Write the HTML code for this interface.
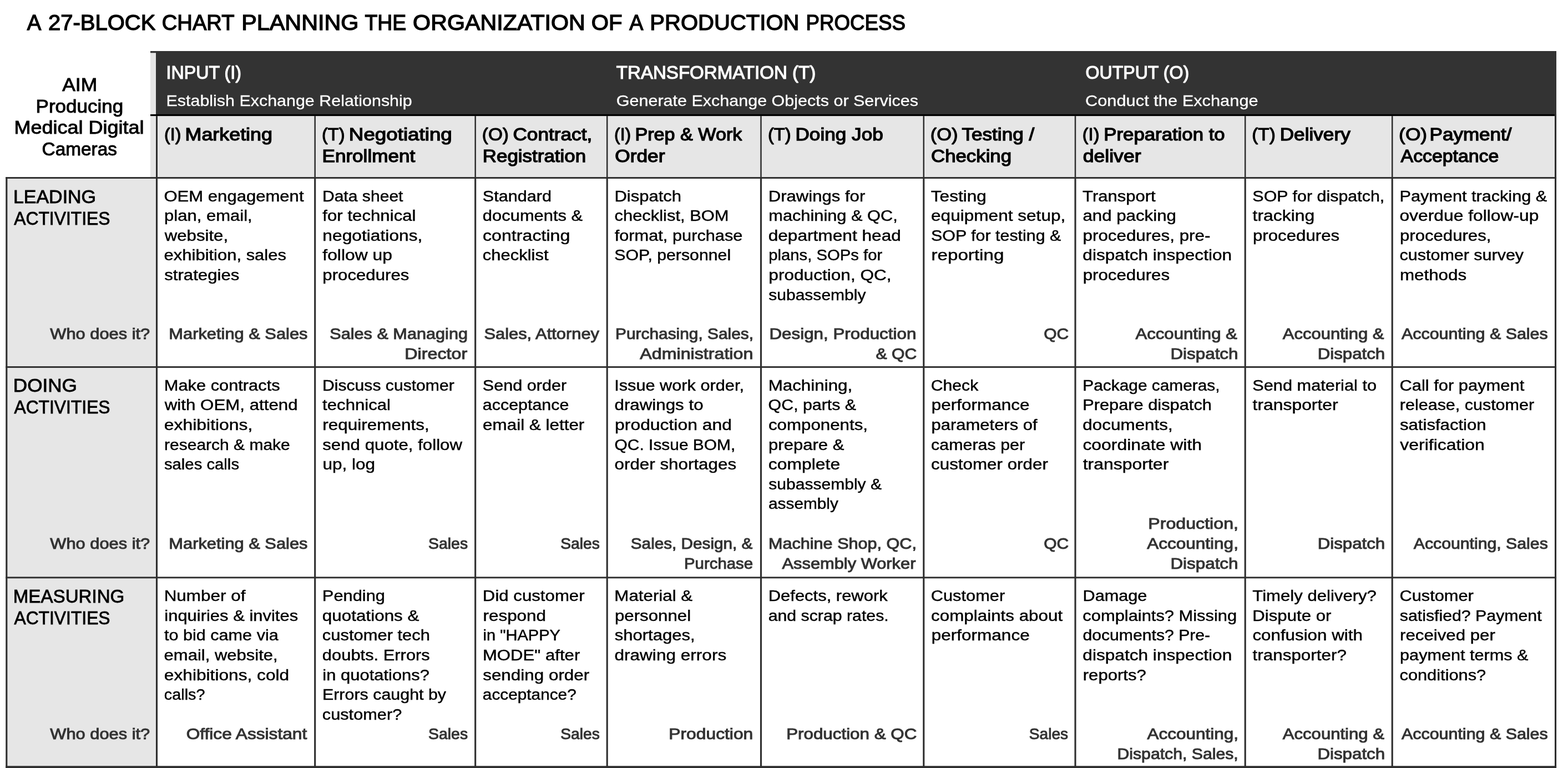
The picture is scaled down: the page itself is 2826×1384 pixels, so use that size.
<!DOCTYPE html>
<html lang="en">
<head>
<meta charset="utf-8">
<title>A 27-Block Chart Planning the Organization of a Production Process</title>
<style>
html,body{margin:0;padding:0;background:#fff}
body{width:2826px;height:1384px;overflow:hidden}
svg{display:block;position:absolute;left:0;top:0}
text{font-family:"Liberation Sans",sans-serif;font-weight:400;white-space:pre;stroke-linejoin:miter;stroke-miterlimit:2}
.title{font-size:38.3px;fill:#000;stroke:#000;stroke-width:1.35px}
.aim{font-size:32.7px;fill:#000;stroke:#000;stroke-width:0.95px}
.grp{font-size:32.7px;fill:#fff;stroke:#fff;stroke-width:1.2px}
.sub{font-size:28.5px;fill:#fff;stroke:#fff;stroke-width:0.3px}
.hd{font-size:31.8px;fill:#000;stroke:#000;stroke-width:1.3px}
.hdr{font-size:32.2px;fill:#000;stroke:#000;stroke-width:1.15px}
.row{font-size:34.1px;fill:#000;stroke:#000;stroke-width:0.85px}
.body{font-size:28.2px;fill:#000;stroke:#000;stroke-width:0.45px}
.who{font-size:28.3px;fill:#333;stroke:#333;stroke-width:1px}
</style>
</head>
<body>
<svg width="2826" height="1384" viewBox="0 0 2826 1384" role="img" aria-label="A 27-block chart planning the organization of a production process">
  <g id="grid">
    <rect x="271.00" y="92.00" width="11.50" height="228.50" fill="#e6e6e6"/>
    <rect x="281.00" y="92.00" width="2524.00" height="115.50" fill="#333333"/>
    <rect x="282.50" y="207.50" width="2521.00" height="113.00" fill="#e6e6e6"/>
    <rect x="11.80" y="320.50" width="270.70" height="1061.20" fill="#e6e6e6"/>
    <rect x="271.00" y="92.00" width="2534.00" height="3.30" fill="#333333"/>
    <rect x="271.00" y="205.90" width="2530.95" height="3.20" fill="#000000"/>
    <rect x="10.25" y="319.05" width="3.10" height="1065.50" fill="#2e2e2e"/>
    <rect x="281.00" y="209.10" width="3.00" height="111.40" fill="#2e2e2e"/>
    <rect x="280.95" y="320.50" width="3.10" height="1065.50" fill="#2e2e2e"/>
    <rect x="566.45" y="209.10" width="2.50" height="111.40" fill="#2e2e2e"/>
    <rect x="566.15" y="320.50" width="3.10" height="1065.50" fill="#2e2e2e"/>
    <rect x="855.45" y="209.10" width="2.50" height="111.40" fill="#2e2e2e"/>
    <rect x="855.15" y="320.50" width="3.10" height="1065.50" fill="#2e2e2e"/>
    <rect x="1092.95" y="209.10" width="2.50" height="111.40" fill="#2e2e2e"/>
    <rect x="1092.65" y="320.50" width="3.10" height="1065.50" fill="#2e2e2e"/>
    <rect x="1370.25" y="209.10" width="2.50" height="111.40" fill="#2e2e2e"/>
    <rect x="1369.95" y="320.50" width="3.10" height="1065.50" fill="#2e2e2e"/>
    <rect x="1663.55" y="209.10" width="2.50" height="111.40" fill="#2e2e2e"/>
    <rect x="1663.25" y="320.50" width="3.10" height="1065.50" fill="#2e2e2e"/>
    <rect x="1936.75" y="209.10" width="2.50" height="111.40" fill="#2e2e2e"/>
    <rect x="1936.45" y="320.50" width="3.10" height="1065.50" fill="#2e2e2e"/>
    <rect x="2242.95" y="209.10" width="2.50" height="111.40" fill="#2e2e2e"/>
    <rect x="2242.65" y="320.50" width="3.10" height="1065.50" fill="#2e2e2e"/>
    <rect x="2507.95" y="209.10" width="2.50" height="111.40" fill="#2e2e2e"/>
    <rect x="2507.65" y="320.50" width="3.10" height="1065.50" fill="#2e2e2e"/>
    <rect x="2801.95" y="205.90" width="3.10" height="1180.10" fill="#2e2e2e"/>
    <rect x="10.25" y="319.05" width="2794.80" height="2.90" fill="#2e2e2e"/>
    <rect x="10.25" y="660.00" width="2794.80" height="2.90" fill="#2e2e2e"/>
    <rect x="10.25" y="1039.40" width="2794.80" height="2.90" fill="#2e2e2e"/>
    <rect x="10.25" y="1380.25" width="2794.80" height="5.75" fill="#2e2e2e"/>
  </g>
  <g id="title">
    <text class="title" y="54.23"><tspan x="48.71" textLength="23.41" lengthAdjust="spacingAndGlyphs">A</tspan> <tspan x="86.95" textLength="193.40" lengthAdjust="spacingAndGlyphs">27-BLOCK</tspan> <tspan x="291.81" textLength="130.02" lengthAdjust="spacingAndGlyphs">CHART</tspan> <tspan x="435.28" textLength="211.19" lengthAdjust="spacingAndGlyphs">PLANNING</tspan> <tspan x="657.44" textLength="74.68" lengthAdjust="spacingAndGlyphs">THE</tspan> <tspan x="744.13" textLength="310.75" lengthAdjust="spacingAndGlyphs">ORGANIZATION</tspan> <tspan x="1065.70" textLength="55.82" lengthAdjust="spacingAndGlyphs">OF</tspan> <tspan x="1134.35" textLength="23.06" lengthAdjust="spacingAndGlyphs">A</tspan> <tspan x="1171.37" textLength="269.10" lengthAdjust="spacingAndGlyphs">PRODUCTION</tspan> <tspan x="1452.48" textLength="179.60" lengthAdjust="spacingAndGlyphs">PROCESS</tspan></text>
  </g>
  <g id="aim">
    <text class="aim" x="112.23" y="163.72" textLength="62.91" lengthAdjust="spacingAndGlyphs">AIM</text>
    <text class="aim" x="64.55" y="202.53" textLength="157.58" lengthAdjust="spacingAndGlyphs">Producing</text>
    <text class="aim" x="25.54" y="241.43" textLength="233.85" lengthAdjust="spacingAndGlyphs">Medical Digital</text>
    <text class="aim" x="75.62" y="280.22" textLength="135.38" lengthAdjust="spacingAndGlyphs">Cameras</text>
  </g>
  <g id="phases">
    <g id="phase-1">
      <text class="grp" x="299.59" y="142.40" textLength="135.28" lengthAdjust="spacingAndGlyphs">INPUT (I)</text>
      <text class="sub" x="299.52" y="190.65" textLength="443.20" lengthAdjust="spacingAndGlyphs">Establish Exchange Relationship</text>
    </g>
    <g id="phase-2">
      <text class="grp" x="1110.85" y="142.40" textLength="359.37" lengthAdjust="spacingAndGlyphs">TRANSFORMATION (T)</text>
      <text class="sub" x="1110.86" y="190.65" textLength="544.12" lengthAdjust="spacingAndGlyphs">Generate Exchange Objects or Services</text>
    </g>
    <g id="phase-3">
      <text class="grp" x="1956.57" y="142.40" textLength="186.50" lengthAdjust="spacingAndGlyphs">OUTPUT (O)</text>
      <text class="sub" x="1955.99" y="190.65" textLength="311.67" lengthAdjust="spacingAndGlyphs">Conduct the Exchange</text>
    </g>
  </g>
  <g id="steps">
    <g id="step-1">
      <text class="hd" y="253.35"><tspan class="hdr" x="296.05" textLength="30.43" lengthAdjust="spacingAndGlyphs">(I)</tspan> <tspan x="333.56" textLength="157.40" lengthAdjust="spacingAndGlyphs">Marketing</tspan></text>
    </g>
    <g id="step-2">
      <text class="hd" y="253.35"><tspan class="hdr" x="579.97" textLength="41.52" lengthAdjust="spacingAndGlyphs">(T)</tspan> <tspan x="628.83" textLength="186.00" lengthAdjust="spacingAndGlyphs">Negotiating</tspan></text>
      <text class="hd" x="580.48" y="292.35" textLength="167.80" lengthAdjust="spacingAndGlyphs">Enrollment</text>
    </g>
    <g id="step-3">
      <text class="hd" y="253.35"><tspan class="hdr" x="868.83" textLength="48.10" lengthAdjust="spacingAndGlyphs">(O)</tspan> <tspan x="924.40" textLength="142.93" lengthAdjust="spacingAndGlyphs">Contract,</tspan></text>
      <text class="hd" x="869.79" y="292.35" textLength="186.38" lengthAdjust="spacingAndGlyphs">Registration</text>
    </g>
    <g id="step-4">
      <text class="hd" y="253.35"><tspan class="hdr" x="1107.05" textLength="30.24" lengthAdjust="spacingAndGlyphs">(I)</tspan> <tspan x="1144.46" textLength="192.92" lengthAdjust="spacingAndGlyphs">Prep &amp; Work</tspan></text>
      <text class="hd" x="1108.19" y="292.35" textLength="90.24" lengthAdjust="spacingAndGlyphs">Order</text>
    </g>
    <g id="step-5">
      <text class="hd" y="253.35"><tspan class="hdr" x="1383.93" textLength="41.78" lengthAdjust="spacingAndGlyphs">(T)</tspan> <tspan x="1433.47" textLength="158.34" lengthAdjust="spacingAndGlyphs">Doing Job</tspan></text>
    </g>
    <g id="step-6">
      <text class="hd" y="253.35"><tspan class="hdr" x="1676.81" textLength="49.74" lengthAdjust="spacingAndGlyphs">(O)</tspan> <tspan x="1733.53" textLength="130.65" lengthAdjust="spacingAndGlyphs">Testing /</tspan></text>
      <text class="hd" x="1678.01" y="292.35" textLength="145.08" lengthAdjust="spacingAndGlyphs">Checking</text>
    </g>
    <g id="step-7">
      <text class="hd" y="253.35"><tspan class="hdr" x="1950.75" textLength="30.75" lengthAdjust="spacingAndGlyphs">(I)</tspan> <tspan x="1989.32" textLength="218.35" lengthAdjust="spacingAndGlyphs">Preparation to</tspan></text>
      <text class="hd" x="1951.72" y="292.35" textLength="104.84" lengthAdjust="spacingAndGlyphs">deliver</text>
    </g>
    <g id="step-8">
      <text class="hd" y="253.35"><tspan class="hdr" x="2256.24" textLength="42.67" lengthAdjust="spacingAndGlyphs">(T)</tspan> <tspan x="2306.72" textLength="127.01" lengthAdjust="spacingAndGlyphs">Delivery</tspan></text>
    </g>
    <g id="step-9">
      <text class="hd" y="253.35"><tspan class="hdr" x="2521.14" textLength="50.97" lengthAdjust="spacingAndGlyphs">(O)</tspan> <tspan x="2576.50" textLength="148.09" lengthAdjust="spacingAndGlyphs">Payment/</tspan></text>
      <text class="hd" x="2524.63" y="292.35" textLength="176.67" lengthAdjust="spacingAndGlyphs">Acceptance</text>
    </g>
  </g>
  <g id="leading-activities">
    <g id="leading-0">
      <text class="row" x="23.90" y="365.57" textLength="149.13" lengthAdjust="spacingAndGlyphs">LEADING</text>
      <text class="row" x="25.18" y="404.68" textLength="173.40" lengthAdjust="spacingAndGlyphs">ACTIVITIES</text>
      <text class="who" x="90.35" y="611.00" textLength="179.83" lengthAdjust="spacingAndGlyphs">Who does it?</text>
    </g>
    <g id="leading-1">
      <text class="body" x="295.48" y="362.77" textLength="252.04" lengthAdjust="spacingAndGlyphs">OEM engagement</text>
      <text class="body" x="296.07" y="398.34" textLength="158.61" lengthAdjust="spacingAndGlyphs">plan, email,</text>
      <text class="body" x="296.77" y="433.91" textLength="114.34" lengthAdjust="spacingAndGlyphs">website,</text>
      <text class="body" x="295.64" y="469.49" textLength="220.29" lengthAdjust="spacingAndGlyphs">exhibition, sales</text>
      <text class="body" x="296.15" y="505.05" textLength="135.26" lengthAdjust="spacingAndGlyphs">strategies</text>
      <text class="who" x="304.36" y="611.00" textLength="250.09" lengthAdjust="spacingAndGlyphs">Marketing &amp; Sales</text>
    </g>
    <g id="leading-2">
      <text class="body" x="580.90" y="362.77" textLength="145.60" lengthAdjust="spacingAndGlyphs">Data sheet</text>
      <text class="body" x="581.34" y="398.34" textLength="168.21" lengthAdjust="spacingAndGlyphs">for technical</text>
      <text class="body" x="581.38" y="433.91" textLength="180.05" lengthAdjust="spacingAndGlyphs">negotiations,</text>
      <text class="body" x="581.33" y="469.49" textLength="125.63" lengthAdjust="spacingAndGlyphs">follow up</text>
      <text class="body" x="581.36" y="505.05" textLength="155.95" lengthAdjust="spacingAndGlyphs">procedures</text>
      <text class="who" x="594.23" y="611.00" textLength="248.77" lengthAdjust="spacingAndGlyphs">Sales &amp; Managing</text>
      <text class="who" x="729.20" y="646.80" textLength="113.14" lengthAdjust="spacingAndGlyphs">Director</text>
    </g>
    <g id="leading-3">
      <text class="body" x="869.78" y="362.77" textLength="124.25" lengthAdjust="spacingAndGlyphs">Standard</text>
      <text class="body" x="869.87" y="398.34" textLength="180.38" lengthAdjust="spacingAndGlyphs">documents &amp;</text>
      <text class="body" x="870.06" y="433.91" textLength="157.25" lengthAdjust="spacingAndGlyphs">contracting</text>
      <text class="body" x="869.83" y="469.49" textLength="118.70" lengthAdjust="spacingAndGlyphs">checklist</text>
      <text class="who" x="872.40" y="611.00" textLength="207.62" lengthAdjust="spacingAndGlyphs">Sales, Attorney</text>
    </g>
    <g id="leading-4">
      <text class="body" x="1107.42" y="362.77" textLength="120.65" lengthAdjust="spacingAndGlyphs">Dispatch</text>
      <text class="body" x="1107.49" y="398.34" textLength="206.12" lengthAdjust="spacingAndGlyphs">checklist, BOM</text>
      <text class="body" x="1107.69" y="433.91" textLength="230.78" lengthAdjust="spacingAndGlyphs">format, purchase</text>
      <text class="body" x="1107.39" y="469.49" textLength="209.74" lengthAdjust="spacingAndGlyphs">SOP, personnel</text>
      <text class="who" x="1109.11" y="611.00" textLength="248.89" lengthAdjust="spacingAndGlyphs">Purchasing, Sales,</text>
      <text class="who" x="1153.35" y="646.80" textLength="203.99" lengthAdjust="spacingAndGlyphs">Administration</text>
    </g>
    <g id="leading-5">
      <text class="body" x="1384.74" y="362.77" textLength="174.55" lengthAdjust="spacingAndGlyphs">Drawings for</text>
      <text class="body" x="1385.27" y="398.34" textLength="232.47" lengthAdjust="spacingAndGlyphs">machining &amp; QC,</text>
      <text class="body" x="1384.65" y="433.91" textLength="239.24" lengthAdjust="spacingAndGlyphs">department head</text>
      <text class="body" x="1385.26" y="469.49" textLength="204.97" lengthAdjust="spacingAndGlyphs">plans, SOPs for</text>
      <text class="body" x="1385.32" y="505.05" textLength="221.33" lengthAdjust="spacingAndGlyphs">production, QC,</text>
      <text class="body" x="1385.26" y="540.62" textLength="175.23" lengthAdjust="spacingAndGlyphs">subassembly</text>
      <text class="who" x="1386.40" y="611.00" textLength="264.98" lengthAdjust="spacingAndGlyphs">Design, Production</text>
      <text class="who" x="1578.47" y="646.80" textLength="73.74" lengthAdjust="spacingAndGlyphs">&amp; QC</text>
    </g>
    <g id="leading-6">
      <text class="body" x="1677.84" y="362.77" textLength="100.02" lengthAdjust="spacingAndGlyphs">Testing</text>
      <text class="body" x="1678.07" y="398.34" textLength="242.24" lengthAdjust="spacingAndGlyphs">equipment setup,</text>
      <text class="body" x="1678.10" y="433.91" textLength="234.22" lengthAdjust="spacingAndGlyphs">SOP for testing &amp;</text>
      <text class="body" x="1678.45" y="469.49" textLength="130.96" lengthAdjust="spacingAndGlyphs">reporting</text>
      <text class="who" x="1881.24" y="611.00" textLength="44.99" lengthAdjust="spacingAndGlyphs">QC</text>
    </g>
    <g id="leading-7">
      <text class="body" x="1951.13" y="362.77" textLength="131.46" lengthAdjust="spacingAndGlyphs">Transport</text>
      <text class="body" x="1951.42" y="398.34" textLength="168.50" lengthAdjust="spacingAndGlyphs">and packing</text>
      <text class="body" x="1951.63" y="433.91" textLength="229.68" lengthAdjust="spacingAndGlyphs">procedures, pre-</text>
      <text class="body" x="1951.33" y="469.49" textLength="268.79" lengthAdjust="spacingAndGlyphs">dispatch inspection</text>
      <text class="body" x="1951.67" y="505.05" textLength="156.43" lengthAdjust="spacingAndGlyphs">procedures</text>
      <text class="who" x="2046.43" y="611.00" textLength="183.47" lengthAdjust="spacingAndGlyphs">Accounting &amp;</text>
      <text class="who" x="2109.47" y="646.80" textLength="122.02" lengthAdjust="spacingAndGlyphs">Dispatch</text>
    </g>
    <g id="leading-8">
      <text class="body" x="2257.36" y="362.77" textLength="237.94" lengthAdjust="spacingAndGlyphs">SOP for dispatch,</text>
      <text class="body" x="2257.62" y="398.34" textLength="111.69" lengthAdjust="spacingAndGlyphs">tracking</text>
      <text class="body" x="2257.95" y="433.91" textLength="156.31" lengthAdjust="spacingAndGlyphs">procedures</text>
      <text class="who" x="2311.81" y="611.00" textLength="182.75" lengthAdjust="spacingAndGlyphs">Accounting &amp;</text>
      <text class="who" x="2374.70" y="646.80" textLength="121.50" lengthAdjust="spacingAndGlyphs">Dispatch</text>
    </g>
    <g id="leading-9">
      <text class="body" x="2522.56" y="362.77" textLength="265.67" lengthAdjust="spacingAndGlyphs">Payment tracking &amp;</text>
      <text class="body" x="2522.42" y="398.34" textLength="251.02" lengthAdjust="spacingAndGlyphs">overdue follow-up</text>
      <text class="body" x="2522.97" y="433.91" textLength="164.41" lengthAdjust="spacingAndGlyphs">procedures,</text>
      <text class="body" x="2522.56" y="469.49" textLength="223.54" lengthAdjust="spacingAndGlyphs">customer survey</text>
      <text class="body" x="2522.93" y="505.05" textLength="120.14" lengthAdjust="spacingAndGlyphs">methods</text>
      <text class="who" x="2525.98" y="611.00" textLength="263.77" lengthAdjust="spacingAndGlyphs">Accounting &amp; Sales</text>
    </g>
  </g>
  <g id="doing-activities">
    <g id="doing-0">
      <text class="row" x="23.79" y="705.88" textLength="115.10" lengthAdjust="spacingAndGlyphs">DOING</text>
      <text class="row" x="25.45" y="744.98" textLength="173.14" lengthAdjust="spacingAndGlyphs">ACTIVITIES</text>
      <text class="who" x="90.35" y="989.10" textLength="179.83" lengthAdjust="spacingAndGlyphs">Who does it?</text>
    </g>
    <g id="doing-1">
      <text class="body" x="295.79" y="703.77" textLength="208.83" lengthAdjust="spacingAndGlyphs">Make contracts</text>
      <text class="body" x="296.78" y="739.38" textLength="239.84" lengthAdjust="spacingAndGlyphs">with OEM, attend</text>
      <text class="body" x="295.85" y="774.98" textLength="159.56" lengthAdjust="spacingAndGlyphs">exhibitions,</text>
      <text class="body" x="296.09" y="810.57" textLength="226.73" lengthAdjust="spacingAndGlyphs">research &amp; make</text>
      <text class="body" x="295.90" y="846.17" textLength="135.15" lengthAdjust="spacingAndGlyphs">sales calls</text>
      <text class="who" x="304.36" y="989.10" textLength="250.09" lengthAdjust="spacingAndGlyphs">Marketing &amp; Sales</text>
    </g>
    <g id="doing-2">
      <text class="body" x="580.99" y="703.77" textLength="237.75" lengthAdjust="spacingAndGlyphs">Discuss customer</text>
      <text class="body" x="581.12" y="739.38" textLength="122.90" lengthAdjust="spacingAndGlyphs">technical</text>
      <text class="body" x="581.30" y="774.98" textLength="192.56" lengthAdjust="spacingAndGlyphs">requirements,</text>
      <text class="body" x="581.21" y="810.57" textLength="251.85" lengthAdjust="spacingAndGlyphs">send quote, follow</text>
      <text class="body" x="581.44" y="846.17" textLength="94.69" lengthAdjust="spacingAndGlyphs">up, log</text>
      <text class="who" x="771.97" y="989.10" textLength="71.14" lengthAdjust="spacingAndGlyphs">Sales</text>
    </g>
    <g id="doing-3">
      <text class="body" x="869.78" y="703.77" textLength="151.40" lengthAdjust="spacingAndGlyphs">Send order</text>
      <text class="body" x="869.82" y="739.38" textLength="155.62" lengthAdjust="spacingAndGlyphs">acceptance</text>
      <text class="body" x="870.12" y="774.98" textLength="183.22" lengthAdjust="spacingAndGlyphs">email &amp; letter</text>
      <text class="who" x="1010.24" y="989.10" textLength="70.60" lengthAdjust="spacingAndGlyphs">Sales</text>
    </g>
    <g id="doing-4">
      <text class="body" x="1107.15" y="703.77" textLength="233.82" lengthAdjust="spacingAndGlyphs">Issue work order,</text>
      <text class="body" x="1107.53" y="739.38" textLength="160.06" lengthAdjust="spacingAndGlyphs">drawings to</text>
      <text class="body" x="1108.09" y="774.98" textLength="210.85" lengthAdjust="spacingAndGlyphs">production and</text>
      <text class="body" x="1107.62" y="810.57" textLength="217.64" lengthAdjust="spacingAndGlyphs">QC. Issue BOM,</text>
      <text class="body" x="1107.50" y="846.17" textLength="219.61" lengthAdjust="spacingAndGlyphs">order shortages</text>
      <text class="who" x="1136.82" y="989.10" textLength="219.56" lengthAdjust="spacingAndGlyphs">Sales, Design, &amp;</text>
      <text class="who" x="1232.96" y="1024.90" textLength="124.15" lengthAdjust="spacingAndGlyphs">Purchase</text>
    </g>
    <g id="doing-5">
      <text class="body" x="1384.69" y="703.77" textLength="151.50" lengthAdjust="spacingAndGlyphs">Machining,</text>
      <text class="body" x="1384.63" y="739.38" textLength="158.47" lengthAdjust="spacingAndGlyphs">QC, parts &amp;</text>
      <text class="body" x="1384.93" y="774.98" textLength="179.13" lengthAdjust="spacingAndGlyphs">components,</text>
      <text class="body" x="1385.08" y="810.57" textLength="136.31" lengthAdjust="spacingAndGlyphs">prepare &amp;</text>
      <text class="body" x="1384.88" y="846.17" textLength="129.26" lengthAdjust="spacingAndGlyphs">complete</text>
      <text class="body" x="1385.26" y="881.77" textLength="203.76" lengthAdjust="spacingAndGlyphs">subassembly &amp;</text>
      <text class="body" x="1385.03" y="917.38" textLength="125.87" lengthAdjust="spacingAndGlyphs">assembly</text>
      <text class="who" x="1385.03" y="989.10" textLength="266.94" lengthAdjust="spacingAndGlyphs">Machine Shop, QC,</text>
      <text class="who" x="1409.56" y="1024.90" textLength="240.87" lengthAdjust="spacingAndGlyphs">Assembly Worker</text>
    </g>
    <g id="doing-6">
      <text class="body" x="1677.85" y="703.77" textLength="85.39" lengthAdjust="spacingAndGlyphs">Check</text>
      <text class="body" x="1678.67" y="739.38" textLength="176.92" lengthAdjust="spacingAndGlyphs">performance</text>
      <text class="body" x="1678.59" y="774.98" textLength="190.98" lengthAdjust="spacingAndGlyphs">parameters of</text>
      <text class="body" x="1678.05" y="810.57" textLength="169.10" lengthAdjust="spacingAndGlyphs">cameras per</text>
      <text class="body" x="1678.09" y="846.17" textLength="210.78" lengthAdjust="spacingAndGlyphs">customer order</text>
      <text class="who" x="1881.24" y="989.10" textLength="44.99" lengthAdjust="spacingAndGlyphs">QC</text>
    </g>
    <g id="doing-7">
      <text class="body" x="1951.37" y="703.77" textLength="247.18" lengthAdjust="spacingAndGlyphs">Package cameras,</text>
      <text class="body" x="1951.15" y="739.38" textLength="232.81" lengthAdjust="spacingAndGlyphs">Prepare dispatch</text>
      <text class="body" x="1951.38" y="774.98" textLength="162.35" lengthAdjust="spacingAndGlyphs">documents,</text>
      <text class="body" x="1951.41" y="810.57" textLength="214.67" lengthAdjust="spacingAndGlyphs">coordinate with</text>
      <text class="body" x="1951.72" y="846.17" textLength="154.57" lengthAdjust="spacingAndGlyphs">transporter</text>
      <text class="who" x="2069.25" y="953.30" textLength="162.76" lengthAdjust="spacingAndGlyphs">Production,</text>
      <text class="who" x="2067.32" y="989.10" textLength="164.58" lengthAdjust="spacingAndGlyphs">Accounting,</text>
      <text class="who" x="2109.47" y="1024.90" textLength="122.02" lengthAdjust="spacingAndGlyphs">Dispatch</text>
    </g>
    <g id="doing-8">
      <text class="body" x="2257.31" y="703.77" textLength="223.72" lengthAdjust="spacingAndGlyphs">Send material to</text>
      <text class="body" x="2257.61" y="739.38" textLength="154.04" lengthAdjust="spacingAndGlyphs">transporter</text>
      <text class="who" x="2374.70" y="989.10" textLength="121.50" lengthAdjust="spacingAndGlyphs">Dispatch</text>
    </g>
    <g id="doing-9">
      <text class="body" x="2522.46" y="703.77" textLength="224.78" lengthAdjust="spacingAndGlyphs">Call for payment</text>
      <text class="body" x="2522.88" y="739.38" textLength="242.17" lengthAdjust="spacingAndGlyphs">release, customer</text>
      <text class="body" x="2523.03" y="774.98" textLength="155.58" lengthAdjust="spacingAndGlyphs">satisfaction</text>
      <text class="body" x="2523.39" y="810.57" textLength="152.49" lengthAdjust="spacingAndGlyphs">verification</text>
      <text class="who" x="2547.74" y="989.10" textLength="242.02" lengthAdjust="spacingAndGlyphs">Accounting, Sales</text>
    </g>
  </g>
  <g id="measuring-activities">
    <g id="measuring-0">
      <text class="row" x="23.77" y="1085.88" textLength="200.61" lengthAdjust="spacingAndGlyphs">MEASURING</text>
      <text class="row" x="25.45" y="1124.97" textLength="173.14" lengthAdjust="spacingAndGlyphs">ACTIVITIES</text>
      <text class="who" x="90.35" y="1332.10" textLength="179.83" lengthAdjust="spacingAndGlyphs">Who does it?</text>
    </g>
    <g id="measuring-1">
      <text class="body" x="295.66" y="1082.98" textLength="146.86" lengthAdjust="spacingAndGlyphs">Number of</text>
      <text class="body" x="296.29" y="1118.63" textLength="240.90" lengthAdjust="spacingAndGlyphs">inquiries &amp; invites</text>
      <text class="body" x="295.92" y="1154.28" textLength="205.87" lengthAdjust="spacingAndGlyphs">to bid came via</text>
      <text class="body" x="295.63" y="1189.93" textLength="205.04" lengthAdjust="spacingAndGlyphs">email, website,</text>
      <text class="body" x="295.89" y="1225.58" textLength="225.25" lengthAdjust="spacingAndGlyphs">exhibitions, cold</text>
      <text class="body" x="295.84" y="1261.23" textLength="73.62" lengthAdjust="spacingAndGlyphs">calls?</text>
      <text class="who" x="335.66" y="1332.10" textLength="217.59" lengthAdjust="spacingAndGlyphs">Office Assistant</text>
    </g>
    <g id="measuring-2">
      <text class="body" x="580.89" y="1082.98" textLength="113.05" lengthAdjust="spacingAndGlyphs">Pending</text>
      <text class="body" x="580.84" y="1118.63" textLength="174.70" lengthAdjust="spacingAndGlyphs">quotations &amp;</text>
      <text class="body" x="580.83" y="1154.28" textLength="194.12" lengthAdjust="spacingAndGlyphs">customer tech</text>
      <text class="body" x="580.87" y="1189.93" textLength="193.95" lengthAdjust="spacingAndGlyphs">doubts. Errors</text>
      <text class="body" x="581.39" y="1225.58" textLength="192.63" lengthAdjust="spacingAndGlyphs">in quotations?</text>
      <text class="body" x="580.93" y="1261.23" textLength="223.16" lengthAdjust="spacingAndGlyphs">Errors caught by</text>
      <text class="body" x="580.84" y="1296.88" textLength="143.39" lengthAdjust="spacingAndGlyphs">customer?</text>
      <text class="who" x="771.97" y="1332.10" textLength="71.14" lengthAdjust="spacingAndGlyphs">Sales</text>
    </g>
    <g id="measuring-3">
      <text class="body" x="869.89" y="1082.98" textLength="183.72" lengthAdjust="spacingAndGlyphs">Did customer</text>
      <text class="body" x="870.43" y="1118.63" textLength="113.71" lengthAdjust="spacingAndGlyphs">respond</text>
      <text class="body" x="870.47" y="1154.28" textLength="139.54" lengthAdjust="spacingAndGlyphs">in "HAPPY</text>
      <text class="body" x="869.90" y="1189.93" textLength="175.40" lengthAdjust="spacingAndGlyphs">MODE" after</text>
      <text class="body" x="870.20" y="1225.58" textLength="192.09" lengthAdjust="spacingAndGlyphs">sending order</text>
      <text class="body" x="869.85" y="1261.23" textLength="168.88" lengthAdjust="spacingAndGlyphs">acceptance?</text>
      <text class="who" x="1010.24" y="1332.10" textLength="70.60" lengthAdjust="spacingAndGlyphs">Sales</text>
    </g>
    <g id="measuring-4">
      <text class="body" x="1107.36" y="1082.98" textLength="140.84" lengthAdjust="spacingAndGlyphs">Material &amp;</text>
      <text class="body" x="1107.95" y="1118.63" textLength="137.15" lengthAdjust="spacingAndGlyphs">personnel</text>
      <text class="body" x="1107.71" y="1154.28" textLength="145.04" lengthAdjust="spacingAndGlyphs">shortages,</text>
      <text class="body" x="1107.48" y="1189.93" textLength="201.71" lengthAdjust="spacingAndGlyphs">drawing errors</text>
      <text class="who" x="1205.34" y="1332.10" textLength="151.93" lengthAdjust="spacingAndGlyphs">Production</text>
    </g>
    <g id="measuring-5">
      <text class="body" x="1384.77" y="1082.98" textLength="214.95" lengthAdjust="spacingAndGlyphs">Defects, rework</text>
      <text class="body" x="1384.65" y="1118.63" textLength="217.12" lengthAdjust="spacingAndGlyphs">and scrap rates.</text>
      <text class="who" x="1417.20" y="1332.10" textLength="235.09" lengthAdjust="spacingAndGlyphs">Production &amp; QC</text>
    </g>
    <g id="measuring-6">
      <text class="body" x="1677.81" y="1082.98" textLength="133.34" lengthAdjust="spacingAndGlyphs">Customer</text>
      <text class="body" x="1678.09" y="1118.63" textLength="237.08" lengthAdjust="spacingAndGlyphs">complaints about</text>
      <text class="body" x="1678.68" y="1154.28" textLength="177.02" lengthAdjust="spacingAndGlyphs">performance</text>
      <text class="who" x="1854.75" y="1332.10" textLength="70.33" lengthAdjust="spacingAndGlyphs">Sales</text>
    </g>
    <g id="measuring-7">
      <text class="body" x="1951.49" y="1082.98" textLength="115.91" lengthAdjust="spacingAndGlyphs">Damage</text>
      <text class="body" x="1951.36" y="1118.63" textLength="277.79" lengthAdjust="spacingAndGlyphs">complaints? Missing</text>
      <text class="body" x="1951.45" y="1154.28" textLength="229.72" lengthAdjust="spacingAndGlyphs">documents? Pre-</text>
      <text class="body" x="1951.34" y="1189.93" textLength="268.92" lengthAdjust="spacingAndGlyphs">dispatch inspection</text>
      <text class="body" x="1951.75" y="1225.58" textLength="114.03" lengthAdjust="spacingAndGlyphs">reports?</text>
      <text class="who" x="2067.49" y="1332.10" textLength="164.44" lengthAdjust="spacingAndGlyphs">Accounting,</text>
      <text class="who" x="2013.48" y="1367.90" textLength="218.30" lengthAdjust="spacingAndGlyphs">Dispatch, Sales,</text>
    </g>
    <g id="measuring-8">
      <text class="body" x="2257.34" y="1082.98" textLength="223.61" lengthAdjust="spacingAndGlyphs">Timely delivery?</text>
      <text class="body" x="2257.39" y="1118.63" textLength="141.96" lengthAdjust="spacingAndGlyphs">Dispute or</text>
      <text class="body" x="2257.40" y="1154.28" textLength="198.46" lengthAdjust="spacingAndGlyphs">confusion with</text>
      <text class="body" x="2257.62" y="1189.93" textLength="169.27" lengthAdjust="spacingAndGlyphs">transporter?</text>
      <text class="who" x="2311.78" y="1332.10" textLength="183.20" lengthAdjust="spacingAndGlyphs">Accounting &amp;</text>
      <text class="who" x="2374.43" y="1367.90" textLength="121.70" lengthAdjust="spacingAndGlyphs">Dispatch</text>
    </g>
    <g id="measuring-9">
      <text class="body" x="2522.46" y="1082.98" textLength="133.40" lengthAdjust="spacingAndGlyphs">Customer</text>
      <text class="body" x="2522.79" y="1118.63" textLength="255.82" lengthAdjust="spacingAndGlyphs">satisfied? Payment</text>
      <text class="body" x="2523.00" y="1154.28" textLength="171.86" lengthAdjust="spacingAndGlyphs">received per</text>
      <text class="body" x="2523.10" y="1189.93" textLength="231.41" lengthAdjust="spacingAndGlyphs">payment terms &amp;</text>
      <text class="body" x="2522.51" y="1225.58" textLength="155.72" lengthAdjust="spacingAndGlyphs">conditions?</text>
      <text class="who" x="2525.98" y="1332.10" textLength="263.77" lengthAdjust="spacingAndGlyphs">Accounting &amp; Sales</text>
    </g>
  </g>
</svg>
</body>
</html>
